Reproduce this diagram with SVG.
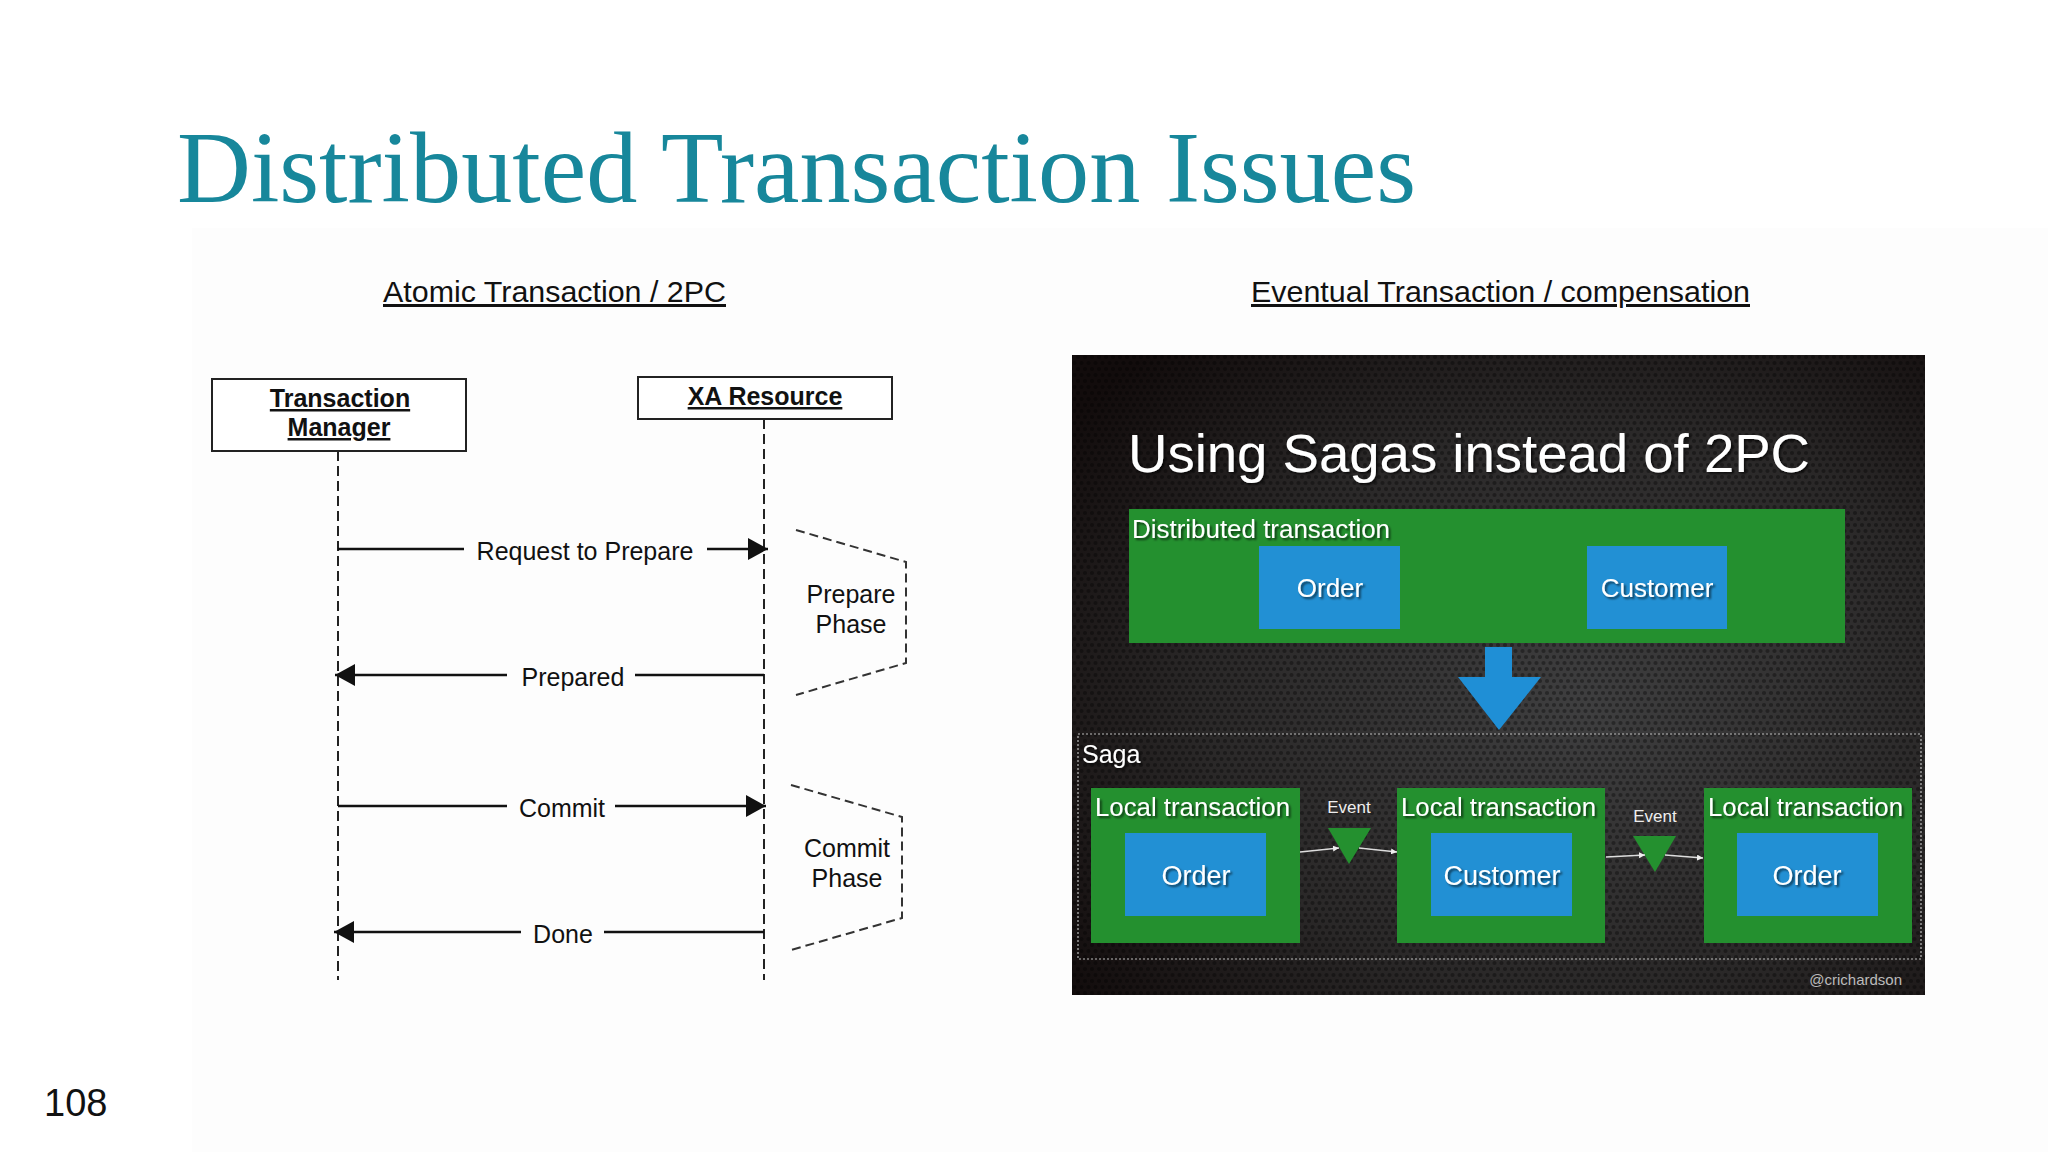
<svg xmlns="http://www.w3.org/2000/svg" width="2048" height="1152" viewBox="0 0 2048 1152">
<style>
.seq{font-family:"Liberation Sans",Arial,sans-serif;font-size:25px;fill:#111;text-anchor:middle}
.hdr{font-family:"Liberation Sans",Arial,sans-serif;font-size:30px;fill:#111;text-decoration:underline}
.box{fill:#fff;stroke:#222;stroke-width:2}
.boxt{font-family:"Liberation Sans",Arial,sans-serif;font-size:25px;font-weight:bold;fill:#111;text-anchor:middle;text-decoration:underline}
.life{stroke:#222;stroke-width:2;stroke-dasharray:10 5;fill:none}
.msg{stroke:#111;stroke-width:2.5;fill:none}
.phase{stroke:#333;stroke-width:2;stroke-dasharray:9 5;fill:none}
.wt{font-family:"Liberation Sans",Arial,sans-serif;fill:#fff;filter:url(#sh)}
.green{fill:#24902f}
.blue{fill:#2290d4}
.ev{stroke:#ddd;stroke-width:1.5;fill:none}
</style>
<defs>
<marker id="ah" markerUnits="userSpaceOnUse" markerWidth="20" markerHeight="22" refX="20" refY="11" orient="auto">
<path d="M0,0 L20,11 L0,22 z" fill="#111"/>
</marker>
<marker id="sa" markerUnits="userSpaceOnUse" markerWidth="6" markerHeight="6" refX="6" refY="3" orient="auto">
<path d="M0,0 L6,3 L0,6 z" fill="#eee"/>
</marker>
<radialGradient id="bg" cx="0.6" cy="0.55" r="0.75">
<stop offset="0" stop-color="#3f3f40"/>
<stop offset="0.6" stop-color="#2a2828"/>
<stop offset="1" stop-color="#120c0c"/>
</radialGradient>
<pattern id="dots" width="7" height="12" patternUnits="userSpaceOnUse">
<circle cx="3.5" cy="3" r="2.1" fill="#000" fill-opacity="0.35"/>
<circle cx="0" cy="9" r="2.1" fill="#000" fill-opacity="0.35"/>
<circle cx="7" cy="9" r="2.1" fill="#000" fill-opacity="0.35"/>
</pattern>
<filter id="sh" x="-10%" y="-30%" width="130%" height="170%">
<feDropShadow dx="2" dy="2" stdDeviation="1.2" flood-color="#000" flood-opacity="0.6"/>
</filter>
</defs>

<rect x="0" y="0" width="2048" height="1152" fill="#ffffff"/>
<rect x="192" y="228" width="1856" height="924" fill="#fdfdfd"/>

<text x="177" y="202" font-family="'Liberation Serif','Times New Roman',serif" font-size="102" fill="#17879b" textLength="1239" lengthAdjust="spacingAndGlyphs">Distributed Transaction Issues</text>

<text class="hdr" x="383" y="302" textLength="343" lengthAdjust="spacingAndGlyphs">Atomic Transaction / 2PC</text>
<text class="hdr" x="1251" y="302" textLength="499" lengthAdjust="spacingAndGlyphs">Eventual Transaction / compensation</text>

<text x="44" y="1116" font-family="'Liberation Sans',Arial,sans-serif" font-size="38" fill="#111">108</text>

<!-- Left: 2PC sequence -->
<g id="transaction-manager">
<rect class="box" x="212" y="379" width="254" height="72"/>
<text class="boxt" x="340" y="407">Transaction </text>
<text class="boxt" x="339" y="436">Manager</text>
</g>
<g id="xa-resource">
<rect class="box" x="638" y="377" width="254" height="42"/>
<text class="boxt" x="765" y="405">XA Resource</text>
</g>
<g id="prepare-phase">
<polyline class="phase" points="796,530 906,562 906,663 796,695"/>
<text class="seq" x="851" y="603">Prepare</text>
<text class="seq" x="851" y="633">Phase</text>
</g>
<g id="commit-phase">
<polyline class="phase" points="791,785 902,817 902,918 791,950"/>
<text class="seq" x="847" y="857">Commit</text>
<text class="seq" x="847" y="887">Phase</text>
</g>
<g id="connectors">
<line class="life" x1="338" y1="451" x2="338" y2="980"/>
<line class="life" x1="764" y1="419" x2="764" y2="980"/>
<line class="msg" x1="338" y1="549" x2="464" y2="549"/>
<line class="msg" x1="707" y1="549" x2="768" y2="549" marker-end="url(#ah)"/>
<text class="seq" x="585" y="560">Request to Prepare</text>
<line class="msg" x1="764" y1="675" x2="635" y2="675"/>
<line class="msg" x1="507" y1="675" x2="335" y2="675" marker-end="url(#ah)"/>
<text class="seq" x="573" y="686">Prepared</text>
<line class="msg" x1="338" y1="806" x2="507" y2="806"/>
<line class="msg" x1="615" y1="806" x2="766" y2="806" marker-end="url(#ah)"/>
<text class="seq" x="562" y="817">Commit</text>
<line class="msg" x1="764" y1="932" x2="604" y2="932"/>
<line class="msg" x1="521" y1="932" x2="334" y2="932" marker-end="url(#ah)"/>
<text class="seq" x="563" y="943">Done</text>
</g>

<!-- Right: Saga picture -->
<g id="saga-panel">
<rect x="1072" y="355" width="853" height="640" fill="url(#bg)"/>
<rect x="1072" y="355" width="853" height="640" fill="url(#dots)"/>
<text class="wt" x="1128" y="472" font-size="54" textLength="682" lengthAdjust="spacingAndGlyphs">Using Sagas instead of 2PC</text>
</g>
<g id="distributed-transaction">
<rect class="green" x="1129" y="509" width="716" height="134"/>
<text class="wt" x="1132" y="538" font-size="26" textLength="258" lengthAdjust="spacingAndGlyphs">Distributed transaction</text>
<rect class="blue" x="1259" y="546" width="141" height="83"/>
<text class="wt" x="1330" y="597" font-size="26" text-anchor="middle">Order</text>
<rect class="blue" x="1587" y="546" width="140" height="83"/>
<text class="wt" x="1657" y="597" font-size="26" text-anchor="middle">Customer</text>
</g>
<g id="big-arrow">
<polygon fill="#1f8fd6" points="1485,647 1512,647 1512,677 1541,677 1499,730 1458,677 1485,677"/>
</g>
<g id="saga">
<rect x="1078" y="734" width="843" height="225" fill="none" stroke="#bbb" stroke-width="1.2" stroke-dasharray="2 2"/>
<text class="wt" x="1082" y="763" font-size="25">Saga</text>
</g>
<g id="local-tx-1">
<rect class="green" x="1091" y="788" width="209" height="155"/>
<text class="wt" x="1095" y="816" font-size="25" textLength="195" lengthAdjust="spacingAndGlyphs">Local transaction</text>
<rect class="blue" x="1125" y="833" width="141" height="83"/>
<text class="wt" x="1196" y="885" font-size="27" text-anchor="middle">Order</text>
</g>
<g id="local-tx-2">
<rect class="green" x="1397" y="788" width="208" height="155"/>
<text class="wt" x="1401" y="816" font-size="25" textLength="195" lengthAdjust="spacingAndGlyphs">Local transaction</text>
<rect class="blue" x="1431" y="833" width="141" height="83"/>
<text class="wt" x="1502" y="885" font-size="27" text-anchor="middle">Customer</text>
</g>
<g id="local-tx-3">
<rect class="green" x="1704" y="788" width="208" height="155"/>
<text class="wt" x="1708" y="816" font-size="25" textLength="195" lengthAdjust="spacingAndGlyphs">Local transaction</text>
<rect class="blue" x="1737" y="833" width="141" height="83"/>
<text class="wt" x="1807" y="885" font-size="27" text-anchor="middle">Order</text>
</g>
<g id="event-1">
<text x="1349" y="813" font-family="'Liberation Sans',Arial,sans-serif" font-size="17" fill="#eee" text-anchor="middle">Event</text>
<polygon class="green" points="1328,828 1371,828 1349,864"/>
</g>
<g id="event-2">
<text x="1655" y="822" font-family="'Liberation Sans',Arial,sans-serif" font-size="17" fill="#eee" text-anchor="middle">Event</text>
<polygon class="green" points="1633,836 1676,836 1655,872"/>
</g>
<g id="event-connectors">
<line class="ev" x1="1300" y1="852" x2="1339" y2="848" marker-end="url(#sa)"/>
<line class="ev" x1="1359" y1="848" x2="1397" y2="852" marker-end="url(#sa)"/>
<line class="ev" x1="1606" y1="857" x2="1645" y2="855" marker-end="url(#sa)"/>
<line class="ev" x1="1665" y1="855" x2="1703" y2="858" marker-end="url(#sa)"/>
</g>
<text x="1902" y="985" font-family="'Liberation Sans',Arial,sans-serif" font-size="15" fill="#bbb" text-anchor="end">@crichardson</text>
</svg>
